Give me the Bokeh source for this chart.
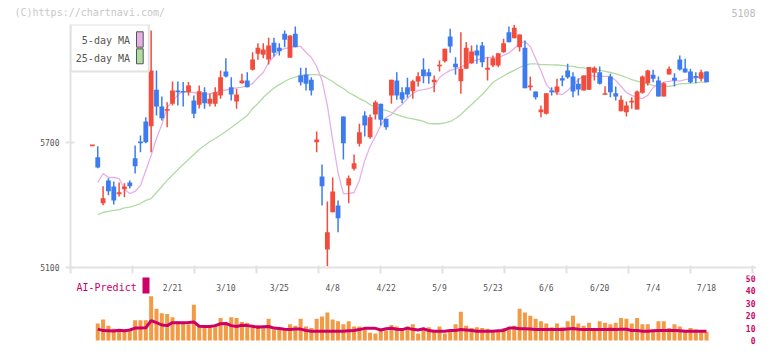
from bokeh.plotting import figure
from bokeh.layouts import column
from bokeh.models import ColumnDataSource, FixedTicker, Range1d
from bokeh.embed import file_html
from bokeh.resources import INLINE
from bokeh.core.properties import value

NAN = float("nan")

# ---------------- data ----------------
opens = [5686, 5629, 5409, 5518, 5489, 5452, 5476, 5508, 5625, 5703,
         5801, 5778, 5953, 5873, 5855, 5886, 5950, 5946, 5941, 5902,
         5881, 5941, 5886, 5886, 5926, 6041, 5965, 5897, 5985, 5998,
         6049, 6126, 6121, 6098, 6179, 6155, 6222, 6107, 6222, 6022,
         6026, 6001, 5701, 5537, 5186, 5365, 5398, 5825, 5494, 5574,
         5694, 5830, 5725, 5834, 5886, 5814, 5926, 5998, 5941, 5965,
         5946, 5993, 6050, 6037, 5989, 6066, 6090, 6209, 6078, 5994,
         6054, 6081, 6142, 6166, 6049, 6070, 6070, 6133, 6229, 6201,
         6157, 6155, 5965, 5945, 5845, 5838, 5950, 5941, 6009, 6046,
         6017, 5982, 5950, 5953, 6035, 6037, 5931, 6017, 5937, 5850,
         5845, 5894, 5858, 5939, 5985, 6025, 5998, 5921, 6026, 6011,
         6098, 6055, 6041, 6018, 6006, 6041]
highs = [5686, 5682, 5490, 5529, 5513, 5508, 5505, 5518, 5686, 5734,
         5821, 6238, 6046, 5921, 5893, 5993, 5993, 5990, 5990, 5926,
         5974, 5965, 5934, 5965, 6046, 6105, 6013, 5958, 6030, 6037,
         6133, 6177, 6177, 6203, 6203, 6177, 6238, 6214, 6257, 6059,
         6059, 6013, 5753, 5594, 5417, 5532, 5422, 5825, 5542, 5642,
         5790, 5850, 5834, 5902, 5886, 5814, 6001, 6037, 5965, 6011,
         6001, 6037, 6105, 6054, 6022, 6094, 6150, 6246, 6109, 6229,
         6182, 6166, 6169, 6182, 6109, 6118, 6129, 6198, 6257, 6265,
         6218, 6190, 6017, 5945, 5878, 5937, 5965, 6006, 6022, 6078,
         6037, 6009, 6022, 6063, 6065, 6065, 5970, 6030, 5969, 5926,
         5897, 5917, 5950, 6022, 6049, 6049, 6017, 5989, 6065, 6033,
         6118, 6102, 6054, 6037, 6049, 6041]
lows = [5686, 5576, 5399, 5447, 5402, 5441, 5437, 5479, 5551, 5653,
        5697, 5653, 5830, 5806, 5773, 5878, 5878, 5873, 5926, 5817,
        5863, 5862, 5873, 5873, 5910, 6012, 5902, 5862, 5982, 5965,
        6046, 6097, 6105, 6074, 6113, 6118, 6157, 6107, 6157, 5974,
        5950, 5926, 5653, 5398, 5106, 5365, 5269, 5618, 5409, 5566,
        5681, 5729, 5718, 5810, 5782, 5761, 5886, 5905, 5889, 5915,
        5910, 5969, 5985, 5982, 5941, 6041, 6084, 6131, 6025, 5934,
        6054, 6078, 6078, 6061, 5998, 6061, 6061, 6131, 6181, 6201,
        6137, 5961, 5950, 5906, 5821, 5834, 5926, 5929, 5970, 6006,
        5917, 5926, 5950, 5953, 5998, 5979, 5929, 5917, 5902, 5850,
        5825, 5862, 5858, 5934, 5974, 5989, 5921, 5921, 6026, 5969,
        6046, 6036, 5985, 5985, 5994, 5989]
closes = [5686, 5580, 5433, 5466, 5422, 5461, 5489, 5490, 5586, 5699,
          5701, 6046, 5873, 5817, 5859, 5950, 5941, 5941, 5974, 5838,
          5946, 5889, 5910, 5941, 6013, 6017, 5930, 5930, 5998, 5965,
          6098, 6155, 6146, 6166, 6131, 6138, 6193, 6214, 6157, 5989,
          5982, 5950, 5714, 5490, 5269, 5465, 5337, 5697, 5529, 5601,
          5749, 5782, 5821, 5893, 5809, 5773, 6001, 5926, 5906, 5930,
          5994, 6018, 6018, 6018, 6001, 6073, 6150, 6161, 6061, 6054,
          6155, 6137, 6118, 6085, 6059, 6105, 6129, 6177, 6181, 6251,
          6218, 5961, 5974, 5917, 5858, 5937, 5941, 5969, 5998, 6013,
          5945, 5954, 6022, 6063, 6059, 5982, 5935, 5941, 5921, 5905,
          5878, 5898, 5945, 6017, 6046, 6006, 5921, 5985, 6054, 5998,
          6050, 6036, 5989, 6012, 6037, 5989]

ma5 = [NAN, 5508, 5551, 5532, 5532, 5527, 5474, 5455, 5465, 5494,
       5566, 5638, 5719, 5786, 5868, 5897, 5930, 5945, 5942, 5940,
       5935, 5930, 5935, 5940, 5947, 5952, 5959, 5962, 5966, 5972,
       5983, 6012, 6036, 6084, 6113, 6142, 6151, 6156, 6163, 6161,
       6133, 6108, 6065, 5998, 5878, 5710, 5556, 5455, 5455, 5460,
       5518, 5614, 5681, 5729, 5782, 5820, 5834, 5863, 5882, 5911,
       5935, 5950, 5954, 5959, 5969, 6012, 6031, 6046, 6053, 6062,
       6074, 6089, 6096, 6103, 6108, 6109, 6109, 6118, 6130, 6151,
       6175, 6185, 6161, 6103, 6046, 5978, 5950, 5935, 5930, 5950,
       5974, 6002, 6017, 6022, 6019, 6017, 6017, 6017, 5998, 5969,
       5940, 5926, 5916, 5911, 5926, 5964, 5978, 5990, 5993, 5998,
       5995, 6002, 6007, 6012, 6014, 6017]
ma25 = [NAN, 5354, 5364, 5369, 5374, 5378, 5386, 5390, 5398, 5407,
        5422, 5431, 5460, 5489, 5518, 5544, 5570, 5594, 5618, 5642,
        5666, 5686, 5705, 5719, 5736, 5753, 5772, 5791, 5810, 5830,
        5863, 5887, 5916, 5940, 5962, 5978, 5993, 6006, 6014, 6022,
        6024, 6026, 6026, 6022, 6007, 5993, 5974, 5959, 5940, 5926,
        5911, 5899, 5882, 5868, 5861, 5854, 5844, 5834, 5825, 5818,
        5813, 5808, 5801, 5791, 5790, 5790, 5794, 5801, 5815, 5834,
        5858, 5882, 5906, 5930, 5959, 5988, 6005, 6019, 6034, 6046,
        6060, 6070, 6077, 6077, 6074, 6074, 6073, 6072, 6070, 6067,
        6065, 6060, 6058, 6054, 6050, 6046, 6041, 6036, 6029, 6022,
        6012, 6002, 5995, 5988, 5981, 5974, 5971, 5969, 5969, 5974,
        5981, 5983, 5985, 5986, 5990, 5990]

volume = [NAN, 13.8, 16.9, 11.9, 9.4, 8.8, 8.1, 7.5, 16.3, 16.3,
          16.3, 35.6, 25.6, 21.9, 21.3, 18.8, 15.6, 15.0, 13.1, 28.8,
          11.9, 12.5, 12.5, 12.5, 18.1, 14.4, 18.8, 18.1, 15.0, 14.4,
          11.3, 12.5, 10.0, 17.5, 8.8, 10.0, 10.0, 13.1, 11.9, 17.5,
          11.3, 10.0, 17.5, 19.4, 22.5, 16.9, 15.6, 13.1, 15.6, 11.3,
          11.3, 10.0, 6.3, 5.6, 8.1, 8.1, 12.5, 11.3, 10.0, 11.3,
          13.1, 5.6, 10.0, 10.6, 8.1, 11.3, 5.6, 7.5, 13.1, 23.1,
          11.9, 10.0, 10.6, 10.0, 9.4, 8.1, 8.1, 10.0, 10.0, 11.9,
          25.6, 22.5, 20.0, 17.5, 15.6, 13.8, 10.6, 13.8, 10.6, 15.6,
          20.0, 13.8, 11.9, 14.4, 9.4, 15.6, 14.4, 13.1, 14.4, 18.1,
          17.5, 13.8, 18.1, 13.1, 13.1, 7.5, 15.6, 15.6, 10.0, 13.1,
          11.3, 7.5, 10.0, 8.8, 7.5, 6.9]
ai_predict = [NAN, 9.2, 8.0, 7.8, 7.6, 8.3, 7.8, 8.5, 10.0, 10.0,
              10.3, 16.0, 14.4, 12.5, 12.0, 14.4, 14.4, 14.4, 14.5, 15.0,
              11.5, 11.3, 11.3, 12.0, 13.5, 13.8, 12.0, 11.3, 12.3, 12.0,
              11.5, 10.6, 11.0, 11.3, 10.0, 9.6, 9.0, 8.8, 9.2, 9.2,
              8.1, 7.5, 7.5, 7.5, 7.5, 7.5, 7.5, 7.5, 7.8, 8.1,
              8.8, 9.8, 9.8, 9.8, 8.5, 9.5, 9.8, 9.0, 8.8, 10.0,
              9.0, 8.5, 9.5, 8.0, 7.5, 7.5, 7.5, 8.1, 8.1, 8.8,
              8.5, 8.1, 7.5, 7.5, 7.5, 7.5, 7.8, 8.1, 10.0, 10.0,
              9.4, 9.4, 9.2, 8.8, 8.8, 8.8, 8.8, 8.8, 8.8, 9.2,
              9.6, 9.0, 8.8, 8.8, 8.8, 8.8, 8.8, 9.0, 8.8, 9.0,
              9.0, 8.1, 8.1, 7.5, 7.5, 7.8, 8.1, 8.1, 8.1, 8.1,
              7.8, 7.5, 7.5, 7.5, 7.5, 7.5]

date_labels = ["2/21", "3/10", "3/25", "4/8", "4/22", "5/9",
               "5/23", "6/6", "6/20", "7/4", "7/18"]
date_label_idx = [15, 25, 35, 45, 55, 65, 75, 85, 95, 105, 115]
price_ticks = [5100, 5700]
volume_ticks = [0, 10, 20, 30, 40, 50]
volume_tick_labels = ["0", "10", "20", "30", "40", "50"]
ticker_code = "5108"
copyright_text = "(C)https://chartnavi.com/"
legend_labels = ["5-day MA", "25-day MA"]

# ---------------- styling ----------------
MONO = "DejaVu Sans Mono"
RED = "#f24c3d"
BLUE = "#3d7cf0"
ORANGE = "#f39a44"
CRIMSON = "#cc0066"
PINK = "#e6b0e6"
GREEN = "#b0dba2"
AXIS = "#e2e2e2"
TXT = "#555555"

W = 756
N = len(opens)
idx = list(range(N))

# page pixel -> data helpers (used only to place decorations / ranges)
def px_x(px):
    return (px - 91.9) / 5.34

def py_p(py):
    return 5100.0 + (267.0 - py) * 4.8

def py_v(py):
    return (340.0 - py) / 1.24

xr = Range1d(px_x(70), px_x(W))


def bare(fig):
    fig.outline_line_color = None
    fig.xgrid.grid_line_color = None
    fig.ygrid.grid_line_color = None
    fig.background_fill_color = "white"
    fig.border_fill_color = "white"


# ---------------- header strip (copyright / code) ----------------
h = figure(width=W, height=24, x_range=Range1d(0, W), y_range=Range1d(0, 24),
           output_backend="svg", toolbar_location=None,
           x_axis_location=None, y_axis_location=None,
           min_border_left=0, min_border_right=0, min_border_top=0, min_border_bottom=0)
if "frame_align" in h.properties():
    h.frame_align = False
bare(h)
h.text(x=[14], y=[12], text=[copyright_text], text_align="left", text_baseline="middle",
       text_color="#c8c8c8", text_font=value(MONO), text_font_size="10px")
h.text(x=[W - 1], y=[12], text=[ticker_code], text_align="right", text_baseline="middle",
       text_color="#bbbbbb", text_font=value(MONO), text_font_size="10px")

# ---------------- price figure ----------------
p = figure(width=W, height=251, x_range=xr, y_range=Range1d(py_p(267), py_p(24)),
           output_backend="svg", toolbar_location=None,
           min_border_left=70, min_border_right=0, min_border_top=0,
           min_border_bottom=8)
bare(p)

xa = p.xaxis[0]
xa.ticker = FixedTicker(ticks=[], minor_ticks=[px_x(70 + 62 * k) for k in range(12)])
xa.major_tick_in = 0
xa.major_tick_out = 0
xa.minor_tick_in = 2
xa.minor_tick_out = 6
xa.minor_tick_line_color = AXIS
xa.minor_tick_line_width = 2
xa.axis_line_color = AXIS
xa.axis_line_width = 2

ya = p.yaxis[0]
ya.ticker = FixedTicker(ticks=price_ticks)
ya.major_label_text_font = MONO
ya.major_label_text_font_size = "8px"
ya.major_label_text_color = TXT
ya.major_label_standoff = 6
ya.major_tick_in = 4
ya.major_tick_out = 5
ya.minor_tick_in = 0
ya.minor_tick_out = 0
ya.axis_line_color = AXIS
ya.axis_line_width = 2
ya.major_tick_line_color = AXIS
ya.major_tick_line_width = 2

p.line(idx, ma25, line_color=GREEN, line_width=1.3)
p.line(idx, ma5, line_color=PINK, line_width=1.3)

colors, btop, bbot = [], [], []
for o, c in zip(opens, closes):
    colors.append(RED if c >= o else BLUE)
    t, b = max(o, c), min(o, c)
    if t - b < 8:
        m = (t + b) / 2.0
        t, b = m + 4, m - 4
    btop.append(t)
    bbot.append(b)

src = ColumnDataSource(dict(x=idx, high=highs, low=lows, top=btop, bottom=bbot, color=colors))
p.segment(x0="x", y0="low", x1="x", y1="high", line_color="color", line_width=1.5, source=src)
p.vbar(x="x", top="top", bottom="bottom", width=0.9, fill_color="color", line_color=None, source=src)

# legend box (text left of the swatch, as in the reference)
p.quad(left=[px_x(70)], right=[px_x(148.3)], top=[py_p(24)], bottom=[py_p(71)],
       fill_color="white", line_color=AXIS, line_width=2)
p.text(x=[px_x(129.5)] * 2, y=[py_p(40), py_p(57.5)], text=legend_labels,
       text_align="right", text_baseline="middle", text_color=TXT,
       text_font=value(MONO), text_font_size="10px")
p.quad(left=[px_x(136)] * 2, right=[px_x(142.7)] * 2, top=[py_p(31.3), py_p(48.3)],
       bottom=[py_p(46.7), py_p(63.3)], fill_color=[PINK, GREEN], line_color="#555555", line_width=1)

# ---------------- volume / AI-Predict figure ----------------
q = figure(width=W, height=70, x_range=xr, y_range=Range1d(py_v(345), py_v(275)),
           output_backend="svg", toolbar_location=None,
           x_axis_location=None, y_axis_location=None,
           min_border_left=70, min_border_right=0, min_border_top=0, min_border_bottom=0)
bare(q)

q.vbar(x=idx, top=volume, bottom=0, width=0.75, fill_color=ORANGE, line_color=None)
q.line(idx, ai_predict, line_color=CRIMSON, line_width=3)

# volume scale labels (right side)
q.text(x=[px_x(W - 1)] * len(volume_ticks), y=volume_ticks, text=volume_tick_labels,
       text_align="right", text_baseline="middle", text_color=CRIMSON,
       text_font=value(MONO), text_font_size="8px", text_font_style="bold")

# date labels
q.text(x=date_label_idx, y=[py_v(287.5)] * len(date_labels), text=date_labels,
       text_align="center", text_baseline="middle", text_color=TXT,
       text_font=value(MONO), text_font_size="8px")
q.text(x=[px_x(76)], y=[py_v(287)], text=["AI-Predict"], text_align="left",
       text_baseline="middle", text_color=CRIMSON, text_font=value(MONO), text_font_size="10px")
q.quad(left=[px_x(142)], right=[px_x(149)], top=[py_v(277)], bottom=[py_v(293)],
       fill_color=CRIMSON, line_color=None)

layout = column(h, p, q, spacing=0)
open("out.html", "w").write(file_html(layout, INLINE))
